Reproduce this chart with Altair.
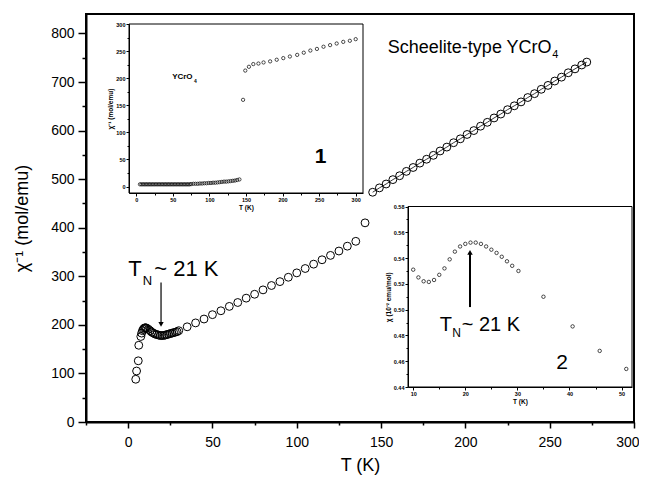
import altair as alt
import pandas as pd

FONT = "Liberation Sans"

# ---------------- main panel data ----------------
low_T = [4.5, 5.0, 6.0, 6.3, 7.5, 8, 8.5, 9, 9.5, 10, 10.5, 11, 12, 13, 14, 15, 16, 17, 18, 19, 20,
         21, 22, 23, 24, 25, 26, 27, 28, 29,
         30, 35, 40, 45, 50, 55, 60, 65, 70, 75, 80, 85, 90, 95, 100, 105, 110, 115, 120, 125,
         130, 135, 140.5]
low_chi = [88, 105, 126, 158, 176, 183, 188, 191, 193, 194, 194, 193, 191, 188, 185, 183, 181, 180, 179, 178, 178,
           178, 179, 180, 181, 182, 183, 184, 185, 186,
           188, 196, 204, 212, 221, 229, 238, 246, 255, 263, 272, 281, 289, 298, 307, 316, 325, 334, 343, 352,
           362, 372, 410]
up_T = [145, 149, 153, 157, 161, 165, 169, 173, 177, 181, 185, 189, 193, 197, 201, 205, 209, 213, 217,
        221, 225, 229, 233, 237, 241, 245, 249, 253, 257, 261, 265, 269, 272]
up_chi = [473, 482, 490, 499, 507, 516, 524, 533, 541, 549, 558, 566, 575, 583, 592, 600, 609, 617, 626,
          634, 643, 651, 659, 668, 676, 685, 693, 702, 710, 719, 727, 735, 741]

main_x_domain = [-25, 300]
main_y_domain = [0, 840]
main_x_ticks = [-25, 0, 25, 50, 75, 100, 125, 150, 175, 200, 225, 250, 275, 300]
main_y_ticks = [0, 50, 100, 150, 200, 250, 300, 350, 400, 450, 500, 550, 600, 650, 700, 750, 800]

# annotations (data coordinates of the main panel)
tn_main = {"T": [0, 8.6, 15.5], "v": [300, 283, 300], "txt": ["T", "N", "~ 21 K"]}
arrow_main = {"T": [19.5], "v": [287], "v2": [201]}
title_txt = {"T": [154], "v": [760], "txt": ["Scheelite-type YCrO"]}
title_sub = {"T": [251.5], "v": [750], "txt": ["4"]}

# ---------------- inset 1 data ----------------
in1_T = [5, 7, 9, 11, 13, 15, 17, 19, 21, 23, 25, 27, 29, 31, 33, 35, 37, 39, 41, 43, 45, 47, 49, 51, 53,
         55, 57, 59, 61, 63, 65, 67, 69, 71, 73, 75, 78, 81, 84, 87, 90, 93, 96, 99, 102, 105, 108, 111,
         114, 117, 120, 123, 126, 129, 132, 135, 138, 141, 146,
         149, 154, 160, 167, 174, 183, 192, 201, 210, 220, 229, 238, 247, 256, 265, 274, 283, 292, 300]
in1_chi = [4, 4, 4, 4, 4, 4, 4, 4, 4, 4, 4, 4, 4, 4, 4, 4, 4, 4, 4, 4, 4, 4, 4, 4, 4,
           4, 4, 4, 4, 4, 4, 4, 4, 4, 4, 4.5, 5, 5, 5, 5.5, 5.5, 6, 6, 6.5, 6.5, 7, 7, 7.5,
           8, 8.5, 9, 9, 9.5, 10, 10.5, 11, 12, 13, 160,
           214, 221, 226, 227, 229, 231, 234, 237, 240, 243, 247, 251, 254, 258, 261, 264, 267, 269, 272]
in1_x_domain = [-10, 310]
in1_y_domain = [-12, 300]
in1_ticks = [0, 25, 50, 75, 100, 125, 150, 175, 200, 225, 250, 275, 300]
in1_frame = {"T": [-10], "T2": [310], "v": [-12], "v2": [300]}
in1_lab = {"T": [49], "v": [198], "txt": ["YCrO"]}
in1_lab_sub = {"T": [79], "v": [191], "txt": ["4"]}
in1_num = {"T": [252], "v": [55], "txt": ["1"]}

# ---------------- inset 2 data ----------------
in2_T = [10, 11, 12, 13, 14, 15, 16, 17, 18, 19, 20, 21, 22, 23, 24, 25, 26, 27, 28, 29, 30.2,
         35, 40.6, 45.8, 50.9]
in2_chi = [0.531, 0.525, 0.522, 0.5215, 0.523, 0.527, 0.532, 0.539, 0.545, 0.549, 0.551, 0.552, 0.552,
           0.551, 0.549, 0.5465, 0.544, 0.541, 0.5375, 0.534, 0.530,
           0.510, 0.487, 0.468, 0.454]
in2_x_domain = [9, 52]
in2_y_domain = [0.44, 0.58]
in2_x_ticks = [10, 15, 20, 25, 30, 35, 40, 45, 50]
in2_y_ticks = [0.44, 0.45, 0.46, 0.47, 0.48, 0.49, 0.50, 0.51, 0.52, 0.53, 0.54, 0.55, 0.56, 0.57, 0.58]
in2_frame = {"T": [9], "T2": [52], "v": [0.44], "v2": [0.58]}
tn_in2 = {"T": [15.1], "v": [0.4835], "txt": ["T"]}
tn_in2_sub = {"T": [17.5], "v": [0.4785], "txt": ["N"]}
tn_in2_rest = {"T": [19.3], "v": [0.4835], "txt": ["~ 21 K"]}
arrow_in2 = {"T": [20.9], "v": [0.502], "v2": [0.5445]}
in2_num = {"T": [38.6], "v": [0.4585], "txt": ["2"]}

W, H = 548, 408

# ================= main panel =================
mx = alt.Scale(domain=main_x_domain, nice=False, zero=False)
my = alt.Scale(domain=main_y_domain, nice=False, zero=False)
main_xaxis = alt.Axis(values=main_x_ticks, labelExpr="datum.value % 50 === 0 ? datum.label : ''",
                      title="T (K)", titleFontSize=18, titleFontWeight="normal", titlePadding=7,
                      labelFontSize=14, labelPadding=7, labelFlush=True, labelFlushOffset=5,
                      labelOverlap=False,
                      tickSize={"condition": {"test": "datum.value % 50 === 0", "value": 6}, "value": 3},
                      tickWidth=1.5, domainWidth=2, grid=False, orient="bottom")
main_yaxis = alt.Axis(values=main_y_ticks, labelExpr="datum.value % 100 === 0 ? datum.label : ''",
                      title="χ⁻¹ (mol/emu)", titleFontSize=18, titleFontWeight="normal", titlePadding=19,
                      labelFontSize=14, labelPadding=4, labelOverlap=False,
                      tickSize={"condition": {"test": "datum.value % 100 === 0", "value": 8}, "value": 4},
                      tickWidth=1.5, domainWidth=2, grid=False, orient="left")
MX = alt.X("T:Q", scale=mx, axis=main_xaxis)
MY = alt.Y("v:Q", scale=my, axis=main_yaxis)

low_df = pd.DataFrame({"T": low_T, "v": low_chi})
up_df = pd.DataFrame({"T": up_T, "v": up_chi})

main_low = alt.Chart(low_df).mark_point(shape="circle", filled=False, color="black", size=62,
                                        strokeWidth=1, opacity=1).encode(x=MX, y=MY)
main_up = alt.Chart(up_df).mark_point(shape="circle", filled=False, color="black", size=62,
                                      strokeWidth=1, opacity=1).encode(x=MX, y=MY)
main_fit = alt.Chart(up_df).mark_line(color="black", strokeWidth=0.8).encode(x=MX, y=MY)

tn_df = pd.DataFrame(tn_main)
tn_big = alt.Chart(tn_df.iloc[[0, 2]]).mark_text(align="left", baseline="alphabetic", fontSize=22,
                                                 font=FONT).encode(x=MX, y=MY, text="txt:N")
tn_small = alt.Chart(tn_df.iloc[[1]]).mark_text(align="left", baseline="alphabetic", fontSize=13,
                                                font=FONT).encode(x=MX, y=MY, text="txt:N")
am_df = pd.DataFrame(arrow_main)
arrow_m = alt.Chart(am_df).mark_rule(color="black", strokeWidth=1.2).encode(x=MX, y=MY, y2="v2:Q")
arrow_mh = alt.Chart(am_df).mark_point(shape="triangle-down", filled=True, color="black", size=28,
                                       opacity=1).encode(x=MX, y=alt.Y("v2:Q", scale=my, axis=main_yaxis))
ttl = alt.Chart(pd.DataFrame(title_txt)).mark_text(align="left", baseline="alphabetic", fontSize=18,
                                                    font=FONT).encode(x=MX, y=MY, text="txt:N")
ttl_sub = alt.Chart(pd.DataFrame(title_sub)).mark_text(align="left", baseline="alphabetic", fontSize=11,
                                                       font=FONT).encode(x=MX, y=MY, text="txt:N")

main = alt.layer(main_low, main_fit, main_up, tn_big, tn_small, arrow_m, arrow_mh, ttl, ttl_sub)

# ================= inset 1 =================
i1x = alt.Scale(domain=in1_x_domain, range=[43, 277], nice=False, zero=False)
i1y = alt.Scale(domain=in1_y_domain, range=[179, 10], nice=False, zero=False)
i1_xaxis = alt.Axis(values=in1_ticks, labelExpr="datum.value % 50 === 0 ? datum.label : ''",
                    title="T (K)", titleFontSize=6.5, titleFontWeight="bold", titlePadding=2,
                    labelFontSize=5.5, labelFontWeight="bold", labelPadding=1, labelFlush=False,
                    labelOverlap=False,
                    tickSize={"condition": {"test": "datum.value % 50 === 0", "value": 3}, "value": 2},
                    domainWidth=1, tickWidth=1, grid=False, orient="bottom", offset=179 - H, zindex=1)
i1_yaxis = alt.Axis(values=in1_ticks, labelExpr="datum.value % 50 === 0 ? datum.label : ''",
                    title="χ⁻¹ (mol/emu)", titleFontSize=6.5, titleFontWeight="bold", titlePadding=2,
                    labelFontSize=5.5, labelFontWeight="bold", labelPadding=1, labelOverlap=False,
                    tickSize={"condition": {"test": "datum.value % 50 === 0", "value": 3}, "value": 2},
                    domainWidth=1, tickWidth=1, grid=False, orient="left", offset=-43, zindex=1)
I1X = alt.X("T:Q", scale=i1x, axis=i1_xaxis)
I1Y = alt.Y("v:Q", scale=i1y, axis=i1_yaxis)

in1_box = alt.Chart(pd.DataFrame(in1_frame)).mark_rect(fill="white", stroke="black", strokeWidth=1).encode(
    x=I1X, x2="T2:Q", y=I1Y, y2="v2:Q")
in1_pts = alt.Chart(pd.DataFrame({"T": in1_T, "v": in1_chi})).mark_point(
    shape="circle", filled=False, color="black", size=11, strokeWidth=0.7, opacity=1).encode(x=I1X, y=I1Y)
in1_t = alt.Chart(pd.DataFrame(in1_lab)).mark_text(align="left", baseline="alphabetic", fontSize=8,
                                                   fontWeight="bold", font=FONT).encode(x=I1X, y=I1Y, text="txt:N")
in1_ts = alt.Chart(pd.DataFrame(in1_lab_sub)).mark_text(align="left", baseline="alphabetic", fontSize=5,
                                                        fontWeight="bold", font=FONT).encode(x=I1X, y=I1Y, text="txt:N")
in1_n = alt.Chart(pd.DataFrame(in1_num)).mark_text(align="center", baseline="middle", fontSize=21,
                                                   fontWeight="bold", font=FONT).encode(x=I1X, y=I1Y, text="txt:N")
inset1 = alt.layer(in1_box, in1_pts, in1_t, in1_ts, in1_n)

# ================= inset 2 =================
i2x = alt.Scale(domain=in2_x_domain, range=[322, 546], nice=False, zero=False)
i2y = alt.Scale(domain=in2_y_domain, range=[373, 192.5], nice=False, zero=False)
i2_xaxis = alt.Axis(values=in2_x_ticks, labelExpr="datum.value % 10 === 0 ? datum.label : ''",
                    title="T (K)", titleFontSize=6.5, titleFontWeight="bold", titlePadding=2,
                    labelFontSize=5.5, labelFontWeight="bold", labelPadding=1, labelFlush=False,
                    labelOverlap=False,
                    tickSize={"condition": {"test": "datum.value % 10 === 0", "value": 3}, "value": 2},
                    domainWidth=1, tickWidth=1, grid=False, orient="bottom", offset=373 - H, zindex=1)
i2_yaxis = alt.Axis(values=in2_y_ticks,
                    labelExpr="round(datum.value * 100) % 2 === 0 ? format(datum.value, '.2f') : ''",
                    title="χ (10⁻² emu/mol)", titleFontSize=6.5, titleFontWeight="bold", titlePadding=2,
                    labelFontSize=5.5, labelFontWeight="bold", labelPadding=1, labelOverlap=False,
                    tickSize={"condition": {"test": "round(datum.value * 100) % 2 === 0", "value": 3},
                              "value": 2},
                    domainWidth=1, tickWidth=1, grid=False, orient="left", offset=-322, zindex=1)
I2X = alt.X("T:Q", scale=i2x, axis=i2_xaxis)
I2Y = alt.Y("v:Q", scale=i2y, axis=i2_yaxis)

in2_box = alt.Chart(pd.DataFrame(in2_frame)).mark_rect(fill="white", stroke="black", strokeWidth=1).encode(
    x=I2X, x2="T2:Q", y=I2Y, y2="v2:Q")
in2_pts = alt.Chart(pd.DataFrame({"T": in2_T, "v": in2_chi})).mark_point(
    shape="circle", filled=False, color="black", size=12, strokeWidth=0.7, opacity=1).encode(x=I2X, y=I2Y)
in2_tb = alt.Chart(pd.DataFrame(tn_in2)).mark_text(align="left", baseline="alphabetic", fontSize=20,
                                                   font=FONT).encode(x=I2X, y=I2Y, text="txt:N")
in2_ts = alt.Chart(pd.DataFrame(tn_in2_sub)).mark_text(align="left", baseline="alphabetic", fontSize=12,
                                                       font=FONT).encode(x=I2X, y=I2Y, text="txt:N")
in2_tr = alt.Chart(pd.DataFrame(tn_in2_rest)).mark_text(align="left", baseline="alphabetic", fontSize=20,
                                                        font=FONT).encode(x=I2X, y=I2Y, text="txt:N")
a2_df = pd.DataFrame(arrow_in2)
in2_ar = alt.Chart(a2_df).mark_rule(color="black", strokeWidth=2).encode(x=I2X, y=I2Y, y2="v2:Q")
in2_ah = alt.Chart(a2_df).mark_point(shape="triangle-up", filled=True, color="black", size=30,
                                     opacity=1).encode(x=I2X, y=alt.Y("v2:Q", scale=i2y, axis=i2_yaxis))
in2_n = alt.Chart(pd.DataFrame(in2_num)).mark_text(align="center", baseline="middle", fontSize=21,
                                                   font=FONT).encode(x=I2X, y=I2Y, text="txt:N")
inset2 = alt.layer(in2_box, in2_pts, in2_tb, in2_ts, in2_tr, in2_ar, in2_ah, in2_n)

chart = alt.layer(main, inset1, inset2).resolve_scale(
    x="independent", y="independent"
).resolve_axis(
    x="independent", y="independent"
).properties(
    width=W, height=H,
    autosize=alt.AutoSizeParams(type="none"),
    padding={"left": 78, "top": 6, "right": 5, "bottom": 53},
    background="white",
).configure_view(
    stroke="black", strokeWidth=2
).configure_axis(
    labelFont=FONT, titleFont=FONT, labelColor="black", titleColor="black",
    domainColor="black", tickColor="black"
).configure_text(font=FONT, color="black")

chart.save("out.html", embed_options={"renderer": "svg", "actions": False})
